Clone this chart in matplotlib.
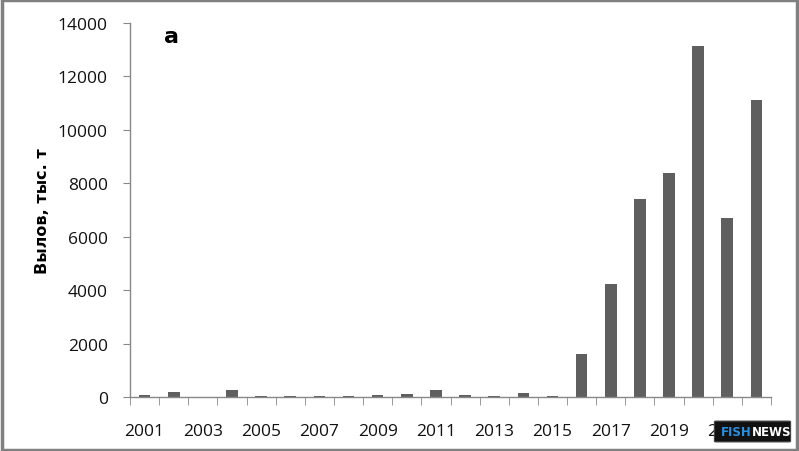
import matplotlib
matplotlib.use("Agg")
import matplotlib.pyplot as plt
import numpy as np
from matplotlib.patches import Rectangle, FancyBboxPatch

years = list(range(2001, 2023))
catch = [90, 200, 0, 270, 30, 40, 30, 30, 80, 120, 270, 90, 30, 160, 30,
         1610, 4230, 7420, 8390, 13150, 6700, 11110]
ylabel = "Вылов, тыс. т"
panel = "а"

fig = plt.figure(figsize=(7.99, 4.52), dpi=100)
ax = fig.add_axes([130/799, 54/452, 641/799, 374/452])
x = np.arange(len(years))
ax.bar(x, catch, width=0.4, color="#5f5f5f", zorder=2)
ax.set_xlim(-0.5, len(years) - 0.5)
ax.set_ylim(0, 14000)
ax.set_yticks(np.arange(0, 14001, 2000))
ax.set_xticks(x[::2])
ax.set_xticklabels([str(y) for y in years[::2]])
ax.set_xticks(np.arange(-0.5, len(years), 1.0), minor=True)
ax.tick_params(axis="x", which="major", length=0, pad=19)
ax.tick_params(axis="x", which="minor", length=6, color="#888888", direction="out")
ax.tick_params(axis="y", length=5, color="#888888", pad=11)
for lab in ax.get_xticklabels() + ax.get_yticklabels():
    lab.set_family("Open Sans")
    lab.set_fontsize(12.5)
    lab.set_color("#111111")
for s in ["top", "right"]:
    ax.spines[s].set_visible(False)
for s in ["left", "bottom"]:
    ax.spines[s].set_color("#888888")
    ax.spines[s].set_linewidth(1.0)
ax.set_ylabel(ylabel, fontsize=11.5, fontweight="bold", family="DejaVu Sans")
ax.yaxis.set_label_coords(-0.137, 0.5)
ax.yaxis.label.set_va("center")
ax.text(0.064, 0.965, panel, transform=ax.transAxes, fontsize=16, fontweight="bold",
        family="DejaVu Sans", va="center", ha="center")

# outer frame
fig.patches.append(Rectangle((0.002, 0.003), 0.996, 0.994, transform=fig.transFigure,
                             fill=False, edgecolor="#808080", linewidth=2.5))
# watermark
fig.patches.append(FancyBboxPatch((716/799, 10/452), 73/799, 19/452, transform=fig.transFigure,
                                  boxstyle="round,pad=0.002", facecolor="#111111",
                                  edgecolor="#444444", linewidth=0.8, zorder=5))
fig.text(752/799, 19.5/452, "FISH", color="#2a8fe0", fontsize=8.5, fontweight="bold",
         ha="right", va="center", family="DejaVu Sans", zorder=6)
fig.text(752/799, 19.5/452, "NEWS", color="white", fontsize=8.5, fontweight="bold",
         ha="left", va="center", family="DejaVu Sans", zorder=6)

fig.savefig("out.png", dpi=100)
